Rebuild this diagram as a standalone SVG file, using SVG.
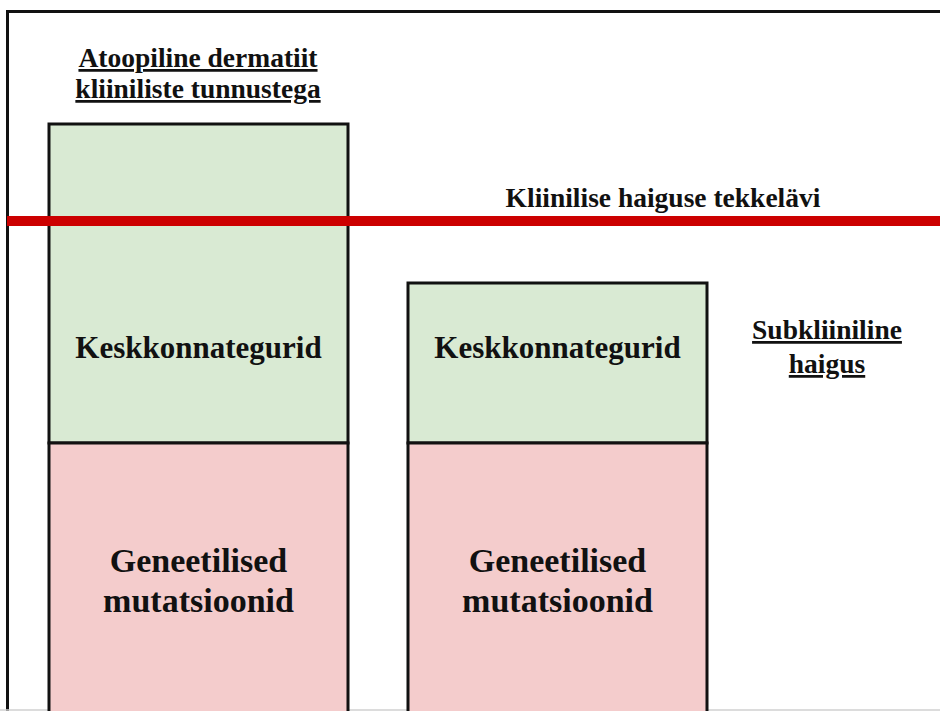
<svg xmlns="http://www.w3.org/2000/svg" width="940" height="711" viewBox="0 0 940 711">
<style>
.t{font-family:"Liberation Serif","Times New Roman",serif;font-weight:bold;fill:#111;text-anchor:middle}
.lbl{font-size:27.5px;text-decoration:underline}
.env{fill:#d9ead3;stroke:#111;stroke-width:3}
.gen{fill:#f4cccc;stroke:#111;stroke-width:3}
</style>
<rect x="0" y="0" width="940" height="711" fill="#fff"/>
<g id="frame" fill="none" stroke="#111" stroke-width="3">
<path d="M7.5 715 V11.5 H945"/>
</g>
<line x1="0" y1="710" x2="940" y2="710" stroke="#d0d0d0" stroke-width="1.5"/>
<g id="col1">
<g id="col1-env"><rect class="env" x="49" y="124" width="299" height="319"/><text class="t" x="198.5" y="358" font-size="31">Keskkonnategurid</text></g>
<g id="col1-gen"><rect class="gen" x="49" y="443" width="299" height="290"/><text class="t" x="198.5" y="572" font-size="34">Geneetilised</text><text class="t" x="198.5" y="612" font-size="34">mutatsioonid</text></g>
</g>
<g id="col2">
<g id="col2-env"><rect class="env" x="408" y="283" width="299" height="160"/><text class="t" x="557.5" y="358" font-size="31">Keskkonnategurid</text></g>
<g id="col2-gen"><rect class="gen" x="408" y="443" width="299" height="290"/><text class="t" x="557.5" y="572" font-size="34">Geneetilised</text><text class="t" x="557.5" y="612" font-size="34">mutatsioonid</text></g>
</g>
<g id="connectors">
<line id="threshold" x1="7" y1="221" x2="940" y2="221" stroke="#cc0000" stroke-width="10"/>
</g>
<g id="label-clinical"><text class="t lbl" x="198" y="67">Atoopiline dermatiit</text><text class="t lbl" x="198" y="98">kliiniliste tunnustega</text></g>
<g id="label-threshold"><text class="t" x="663" y="207" font-size="27.5">Kliinilise haiguse tekkelävi</text></g>
<g id="label-subclinical"><text class="t lbl" x="827" y="339">Subkliiniline</text><text class="t lbl" x="827" y="373">haigus</text></g>
</svg>
